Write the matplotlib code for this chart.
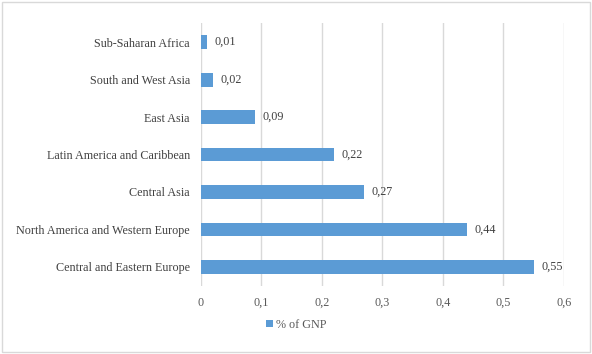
import matplotlib
matplotlib.use("Agg")
import matplotlib.pyplot as plt
from matplotlib.patches import Rectangle

regions = ["Central and Eastern Europe", "North America and Western Europe", "Central Asia",
           "Latin America and Caribbean", "East Asia", "South and West Asia", "Sub-Saharan Africa"]
gnp = [0.55, 0.44, 0.27, 0.22, 0.09, 0.02, 0.01]
xticks = [0, 0.1, 0.2, 0.3, 0.4, 0.5, 0.6]

plt.rcParams["font.family"] = ["Liberation Serif", "DejaVu Serif"]
BLUE = "#5B9BD5"

fig = plt.figure(figsize=(5.92, 3.54), dpi=100)
ax = fig.add_axes([0.3395, 0.193, 0.6132, 0.741])
y = range(len(regions))
ax.barh(y, gnp, height=0.37, color=BLUE, zorder=3, label="% of GNP")
for i, v in enumerate(gnp):
    ax.text(v + 0.012, i, f"{v:.2f}".replace(".", ","), va="center", ha="left",
            fontsize=8.7, color="#404040")
ax.set_yticks(list(y))
ax.set_yticklabels(regions, fontsize=8.7, color="#404040")
ax.set_ylim(-0.5, len(regions) - 0.5)
ax.set_xlim(0, 0.6)
ax.set_xticks(xticks)
ax.set_xticklabels([f"{t:g}".replace(".", ",") for t in xticks], fontsize=8.7, color="#595959")
ax.grid(axis="x", color="#D9D9D9", lw=1, zorder=0)
for s in ax.spines.values():
    s.set_visible(False)
ax.tick_params(length=0, pad=8)
ax.tick_params(axis="x", pad=8)
fig.legend(loc="center", bbox_to_anchor=(0.5, 0.083), frameon=False, fontsize=8.7,
           handlelength=0.6, handleheight=0.6, handletextpad=0.2, labelcolor="#595959")
fig.patches.append(Rectangle((0.003, 0.005), 0.994, 0.99, transform=fig.transFigure,
                             fill=False, edgecolor="#D9D9D9", lw=1))
fig.savefig("out.png", dpi=100)
